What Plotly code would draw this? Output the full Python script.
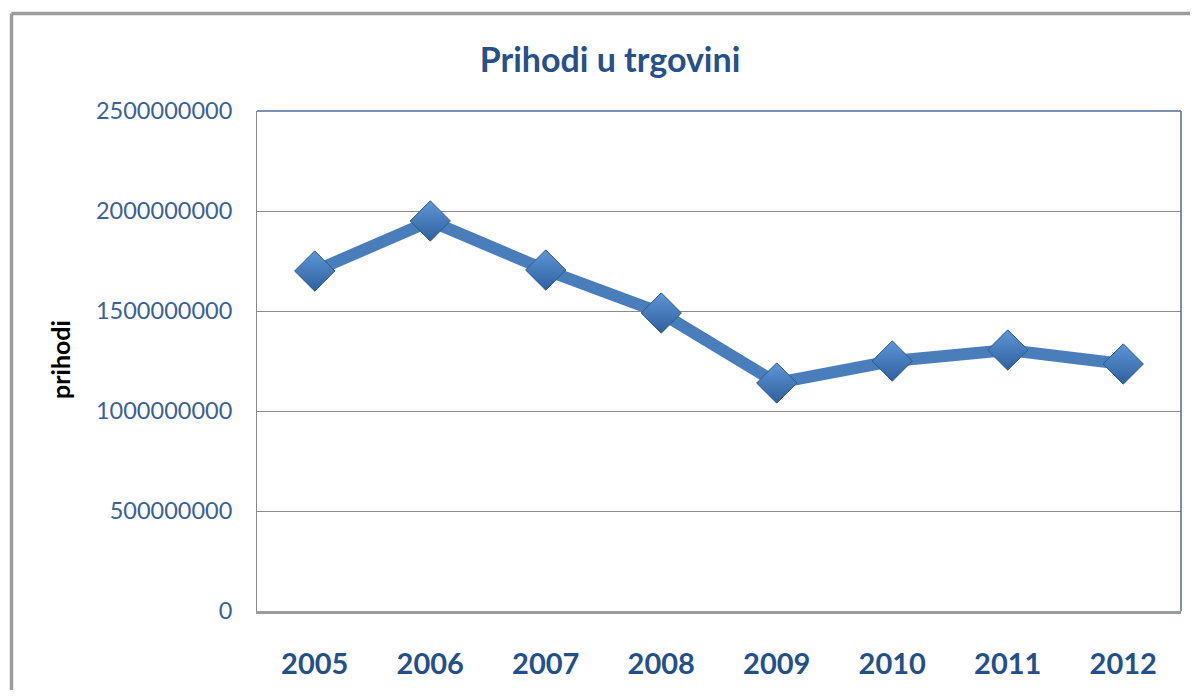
import plotly.graph_objects as go

years = ["2005", "2006", "2007", "2008", "2009", "2010", "2011", "2012"]
prihodi = [1700000000, 1950000000, 1705000000, 1490000000, 1140000000, 1250000000, 1305000000, 1235000000]
y_ticks = [0, 500000000, 1000000000, 1500000000, 2000000000, 2500000000]
y_ticktext = [str(v) for v in y_ticks]

title_text = "Prihodi u trgovini"
y_title = "prihodi"

FONT = "Lato"
LINE_BLUE = "#4A7EBB"

# page body has an 8px margin: figure is drawn at (8, 8) in the window
OFF = 8
W, H = 1190, 682
PL, PR, PT, PB = 257, 1181, 111, 611  # plot area in screen px


def px(x):
    return (x - PL) / (PR - PL)


def py(y):
    return (PB - y) / (PB - PT)


fig = go.Figure()
fig.add_trace(go.Scatter(
    x=years, y=prihodi, mode="lines+markers",
    line=dict(color=LINE_BLUE, width=12),
    marker=dict(symbol="diamond", size=31, color="#5E96D8",
                gradient=dict(type="vertical", color="#2F609C"),
                line=dict(color="#2F5A8C", width=1)),
    showlegend=False, hoverinfo="x+y",
))

fig.update_layout(
    width=W, height=H,
    margin=dict(l=PL - OFF, r=OFF + W - PR, t=PT - OFF, b=OFF + H - PB, autoexpand=False),
    paper_bgcolor="white", plot_bgcolor="white",
    title=dict(text=f"<b>{title_text}</b>", xref="container", yref="container",
               x=(610 - OFF) / W, xanchor="center", y=1 - (60 - OFF) / H, yanchor="middle",
               font=dict(family=FONT, size=34, color="#25508A")),
    xaxis=dict(type="category", range=[-0.5, 7.5], showgrid=False, automargin=False,
               showline=True, linecolor="#9A9A9A", linewidth=3,
               ticks="", ticklabelstandoff=25,
               tickfont=dict(family=FONT, size=29, color="#24508A", weight="bold"),
               fixedrange=True),
    yaxis=dict(range=[0, 2500000000], tickvals=y_ticks, ticktext=y_ticktext,
               showgrid=True, gridcolor="#8C8C8C", gridwidth=1, automargin=False,
               showline=True, linecolor="#8C8C8C", linewidth=1,
               zeroline=False, ticks="", ticklabelstandoff=19,
               tickfont=dict(family=FONT, size=23.5, color="#3A6296"),
               fixedrange=True),
    annotations=[dict(text=f"<b>{y_title}</b>", xref="paper", yref="paper",
                      x=px(60), y=py(360), showarrow=False,
                      textangle=-90, xanchor="center", yanchor="middle",
                      font=dict(family=FONT, size=25, color="black"))],
    shapes=[
        # plot area top & right border (blue-gray)
        dict(type="line", xref="paper", yref="paper", x0=0, x1=1, y0=1, y1=1,
             line=dict(color="#4C6E9C", width=1.5)),
        dict(type="line", xref="paper", yref="paper", x0=1, x1=1, y0=0, y1=1,
             line=dict(color="#4C6E9C", width=1.5)),
        # outer chart frame (gray), top and left
        dict(type="line", xref="paper", yref="paper",
             x0=px(11.5), x1=px(1200), y0=py(13.5), y1=py(13.5),
             line=dict(color="#9C9C9C", width=3.5)),
        dict(type="line", xref="paper", yref="paper",
             x0=px(11.5), x1=px(11.5), y0=py(13.5), y1=py(700),
             line=dict(color="#9C9C9C", width=3.5)),
    ],
)

fig.write_html("out.html")
